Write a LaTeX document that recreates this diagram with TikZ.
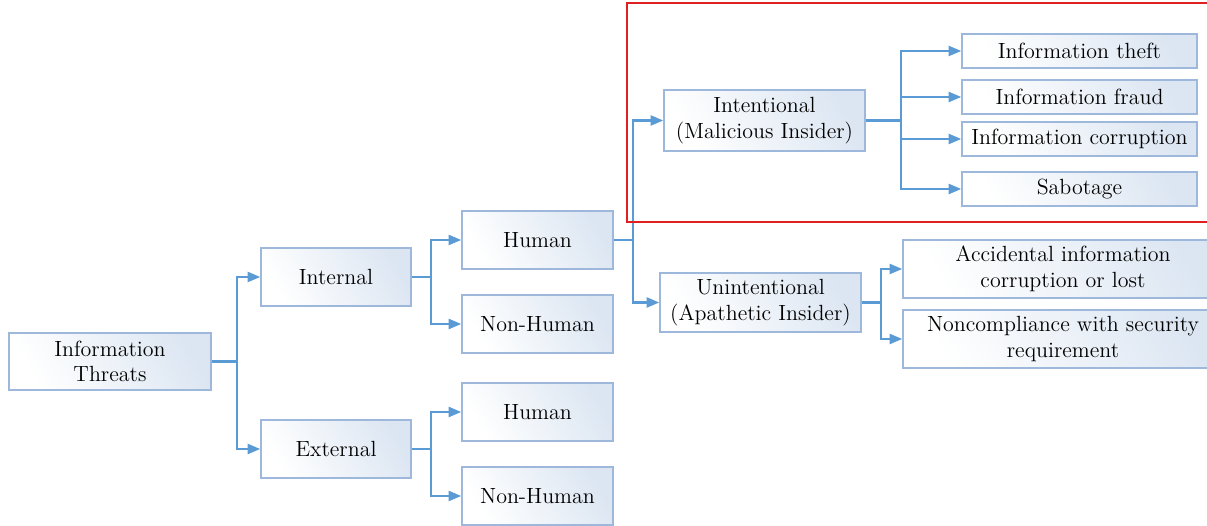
\documentclass[tikz,border=0pt]{standalone}
\usetikzlibrary{arrows.meta, positioning}

\definecolor{linkblue}{HTML}{5B9BD5}
\definecolor{boxline}{HTML}{9DB8DA}
\definecolor{boxfill}{HTML}{DCE6F2}
\definecolor{framered}{HTML}{E02020}

\begin{document}
\begin{tikzpicture}[
    tbox/.style={draw=boxline, line width=0.9pt, left color=white, right color=boxfill,
      shading angle=120, align=center, inner sep=2pt,
      font=\fontsize{12.5}{14.5}\selectfont},
    conn/.style={linkblue, line width=1.2pt, -{Triangle[length=0.25cm, width=0.2cm]}}
  ]
  \useasboundingbox (0,0) rectangle (24.14,10.52);

  %% Root and first level
  \node[tbox, minimum width=4.04cm, minimum height=1.14cm] (threats) at (2.2,3.29) {Information\\Threats};
  \node[tbox, minimum width=3.0cm, minimum height=1.16cm] (internal) at (6.72,4.98) {Internal};
  \node[tbox, minimum width=3.0cm, minimum height=1.16cm] (external) at (6.72,1.54) {External};

  % second level
  \node[tbox, minimum width=3.02cm, minimum height=1.16cm] (human1) at (10.75,5.72) {Human};
  \node[tbox, minimum width=3.02cm, minimum height=1.16cm] (nonhuman1) at (10.75,4.04) {Non-Human};
  \node[tbox, minimum width=3.02cm, minimum height=1.16cm] (human2) at (10.75,2.28) {Human};
  \node[tbox, minimum width=3.02cm, minimum height=1.16cm] (nonhuman2) at (10.75,0.60) {Non-Human};

  % insiders
  \node[tbox, minimum width=4.02cm, minimum height=1.22cm] (intent) at (15.29,8.11) {Intentional\\(Malicious Insider)};
  \node[tbox, minimum width=4.02cm, minimum height=1.18cm] (unintent) at (15.21,4.47) {Unintentional\\(Apathetic Insider)};

  % malicious outcomes
  \node[tbox, minimum width=4.7cm, minimum height=0.68cm] (theft) at (21.59,9.50) {Information theft};
  \node[tbox, minimum width=4.7cm, minimum height=0.68cm] (fraud) at (21.59,8.58) {Information fraud};
  \node[tbox, minimum width=4.7cm, minimum height=0.68cm] (corrupt) at (21.59,7.74) {Information corruption};
  \node[tbox, minimum width=4.7cm, minimum height=0.68cm] (sabotage) at (21.59,6.74) {Sabotage};

  % apathetic outcomes
  \node[tbox, minimum width=6.4cm, minimum height=1.16cm] (accident) at (21.26,5.14) {Accidental information\\corruption or lost};
  \node[tbox, minimum width=6.4cm, minimum height=1.16cm] (noncomp) at (21.26,3.74) {Noncompliance with security\\requirement};

  %% Connectors
  \draw[conn] (threats.east) -- ++(0.5,0) |- (internal.west);
  \draw[conn] (threats.east) -- ++(0.5,0) |- (external.west);
  \draw[conn] (internal.east) -- ++(0.38,0) |- (human1.west);
  \draw[conn] (internal.east) -- ++(0.38,0) |- (nonhuman1.west);
  \draw[conn] (external.east) -- ++(0.38,0) |- (human2.west);
  \draw[conn] (external.east) -- ++(0.38,0) |- (nonhuman2.west);
  \draw[conn] (human1.east) -- ++(0.38,0) |- (intent.west);
  \draw[conn] (human1.east) -- ++(0.38,0) |- (unintent.west);
  \foreach \t in {theft, fraud, corrupt, sabotage}
    \draw[conn] (intent.east) -- ++(0.7,0) |- (\t.west);
  \draw[conn] (unintent.east) -- ++(0.38,0) |- (accident.west);
  \draw[conn] (unintent.east) -- ++(0.38,0) |- (noncomp.west);

  % highlight frame
  \draw[framered, line width=1.6pt] (12.54,6.08) rectangle (24.4,10.46);

\end{tikzpicture}
\end{document}
